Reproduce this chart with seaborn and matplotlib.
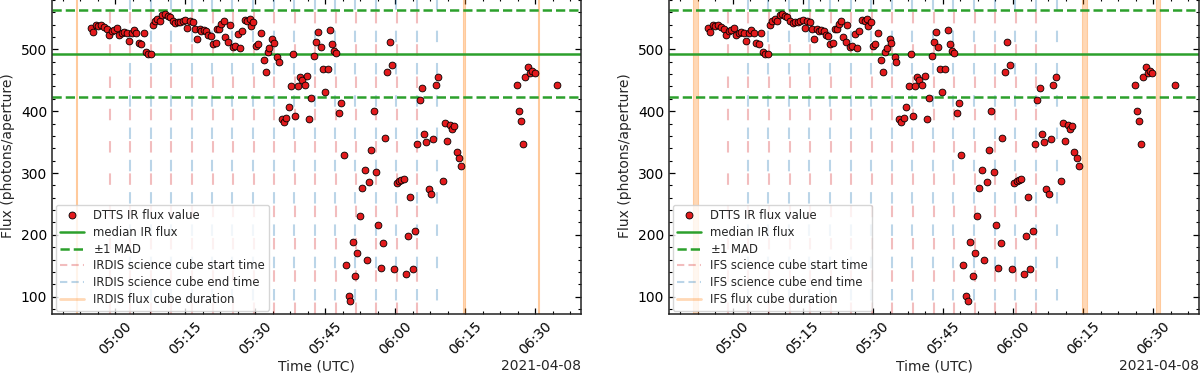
import numpy as np
import pandas as pd
import seaborn as sns
import matplotlib.pyplot as plt
import matplotlib.dates as mdates
from matplotlib.lines import Line2D
from matplotlib.ticker import AutoMinorLocator, MultipleLocator

# DTTS IR flux, minutes after 05:00 UTC on 2021-04-08
dtts_min = [
    -5.32, -4.74, -4.25, -3.68, -3.02, -2.45, -1.88, -1.39, -0.81, -0.24,
    0.25, 0.82, 1.40, 1.89, 2.46, 2.87, 3.45, 3.94, 4.51, 5.08,
    5.57, 6.15, 6.56, 6.97, 7.54, 7.95, 8.44, 9.01, 9.59, 10.08,
    10.65, 11.23, 11.72, 12.29, 12.86, 13.36, 13.93, 14.50, 14.99, 15.40,
    15.98, 16.63, 17.04, 17.45, 18.02, 18.43, 18.92, 19.50, 19.91, 20.48,
    20.89, 21.46, 21.87, 22.28, 22.69, 23.18, 23.59, 24.17, 24.58, 25.15,
    25.64, 26.21, 26.62, 27.11, 27.69, 28.26, 28.83, 29.08, 29.57, 30.06,
    30.55, 31.13, 31.78, 32.19, 32.60, 33.01, 33.58, 33.99, 34.65, 35.06,
    35.63, 36.12, 36.61, 37.11, 37.68, 38.09, 38.58, 39.07, 39.56, 39.97,
    40.55, 41.12, 41.53, 42.02, 42.59, 43.00, 43.49, 43.99, 44.40, 44.89,
    45.46, 46.03, 46.44, 46.93, 47.34, 47.92, 48.41, 48.90, 49.39, 49.96,
    50.37, 50.87, 51.36, 51.85, 52.34, 52.83, 53.40, 53.90, 54.39, 54.88,
    55.37, 55.86, 56.35, 56.84, 57.34, 57.74, 58.32, 58.81, 59.30, 59.79,
    60.28, 60.78, 61.27, 61.76, 62.25, 62.74, 63.23, 63.72, 64.22, 64.71,
    65.20, 65.69, 66.18, 66.67, 67.16, 67.66, 68.15, 68.64, 69.13, 70.19,
    70.69, 71.18, 71.67, 72.16, 72.65, 73.14, 73.63, 74.12,
    86.00, 86.49, 86.98, 87.47, 87.88, 88.38, 88.87, 89.36, 89.85, 94.76,
]
dtts_flux = [
    534.0, 527.5, 538.8, 537.7, 538.8, 535.6, 532.9, 522.6, 529.6, 531.8,
    534.0, 523.2, 527.0, 528.6, 527.0, 514.0, 526.4, 530.7, 526.4, 510.2,
    509.2, 526.4, 496.2, 491.9, 492.5, 539.4, 545.8, 549.6, 545.8, 556.1,
    557.1, 553.9, 551.8, 546.4, 543.1, 544.2, 544.2, 546.4, 547.4, 534.0,
    545.3, 543.7, 532.9, 516.7, 532.9, 529.6, 531.3, 529.6, 523.7, 522.1,
    508.6, 510.2, 533.4, 533.4, 541.0, 545.3, 520.5, 511.3, 538.8, 503.8,
    505.4, 524.3, 502.2, 529.6, 546.9, 546.4, 549.6, 538.3, 543.7, 505.4,
    509.2, 525.9, 482.7, 463.3, 496.2, 502.7, 517.3, 510.2, 488.1, 480.1,
    387.3, 383.0, 389.0, 406.7, 440.7, 492.5, 392.7, 440.7, 454.7, 450.4,
    442.3, 457.4, 387.9, 421.8, 489.2, 511.3, 528.6, 503.8, 468.7, 431.0,
    468.7, 531.8, 508.1, 496.8, 494.1, 396.5, 413.2, 328.6, 151.2, 101.1,
    93.5, 188.4, 133.4, 170.1, 230.5, 275.2, 304.3, 159.8, 285.4, 337.7,
    400.3, 301.1, 215.4, 146.4, 187.3, 356.6, 463.3, 511.3, 474.7, 145.3,
    283.3, 287.1, 289.2, 290.3, 136.7, 198.7, 261.2, 144.7, 206.7, 346.4,
    417.5, 436.9, 363.1, 350.1, 274.7, 265.5, 354.4, 442.9, 454.7, 287.1,
    380.3, 352.3, 377.1, 370.6, 376.5, 333.4, 324.3, 311.3,
    442.9, 399.7, 383.6, 346.9, 454.7, 471.4, 462.3, 465.5, 461.7, 442.9,
]

median_flux = 493
mad_flux = 70

# science cube start / end times (UTC)
irdis_start = ['04:58:47', '05:03:13', '05:07:38', '05:11:59', '05:16:25', '05:20:49',
               '05:25:11', '05:29:36', '05:34:02', '05:38:27', '05:42:52', '05:47:14',
               '05:51:31', '05:55:55', '06:00:17', '06:04:41']
irdis_end = ['05:03:07', '05:07:32', '05:11:53', '05:16:19', '05:20:43', '05:25:05',
             '05:29:30', '05:33:56', '05:38:21', '05:42:46', '05:47:08', '05:51:25',
             '05:55:49', '06:00:11', '06:04:35', '06:08:58']
ifs_start = ['04:59:00', '05:03:22', '05:07:46', '05:12:12', '05:16:32', '05:20:58',
             '05:25:24', '05:29:49', '05:34:10', '05:38:35', '05:43:05', '05:47:22',
             '05:51:47', '05:56:12', '06:00:37', '06:04:59']
ifs_end = ['05:03:16', '05:07:40', '05:12:06', '05:16:26', '05:20:52', '05:25:18',
           '05:29:43', '05:34:04', '05:38:29', '05:42:59', '05:47:16', '05:51:41',
           '05:56:06', '06:00:31', '06:04:53', '06:09:29']

# flux (off-axis) cube start / end times
irdis_flux_start = ['04:51:30', '06:14:36', '06:30:36']
irdis_flux_end = ['04:51:48', '06:14:54', '06:30:54']
ifs_flux_start = ['04:51:30', '06:14:48', '06:30:30']
ifs_flux_end = ['04:52:36', '06:15:48', '06:31:30']

day = '2021-04-08 '
base = pd.Timestamp(day + '05:00:00')


def to_time(lst):
    return pd.to_datetime([day + s for s in lst])


sns.set_style('ticks')
plt.rcParams['font.family'] = ['DejaVu Sans']
plt.rcParams['font.size'] = 10

c_red = (0.839, 0.153, 0.157, 0.3)
c_blue = (0.122, 0.467, 0.706, 0.3)
c_orange = (1.0, 0.498, 0.055, 0.3)
c_green = '#2ca02c'
dash_pink = (0, (5.5, 10))
dash_blue = (9, (5.5, 10))

fig = plt.figure(figsize=(12, 3.77), dpi=100)
ax_l = fig.add_axes([52 / 1200, 63 / 377, 529 / 1200, 316 / 377])
ax_r = fig.add_axes([669 / 1200, 63 / 377, 530 / 1200, 316 / 377])

t_dtts = base + pd.to_timedelta(dtts_min, unit='min')
df = pd.DataFrame({'time': t_dtts, 'flux': dtts_flux})

panels = [
    (ax_l, 'IRDIS', irdis_start, irdis_end, irdis_flux_start, irdis_flux_end),
    (ax_r, 'IFS', ifs_start, ifs_end, ifs_flux_start, ifs_flux_end),
]

for ax, inst, st, en, fst, fen in panels:
    for t in to_time(st):
        ax.axvline(t, color=c_red, lw=1.5, ls=dash_pink, zorder=1)
    for t in to_time(en):
        ax.axvline(t, color=c_blue, lw=1.5, ls=dash_blue, zorder=1)
    for a, b in zip(to_time(fst), to_time(fen)):
        ax.axvspan(a, b, facecolor=c_orange, edgecolor=c_orange, lw=0.8, zorder=1)

    ax.axhline(median_flux, color=c_green, lw=1.8, zorder=2)
    ax.axhline(median_flux + mad_flux, color=c_green, lw=1.8, ls='--', zorder=2)
    ax.axhline(median_flux - mad_flux, color=c_green, lw=1.8, ls='--', zorder=2)

    sns.scatterplot(data=df, x='time', y='flux', ax=ax, color='#e31a1c',
                    edgecolor='black', linewidth=0.6, s=24, zorder=5, legend=False)

    ax.set_xlim(base + pd.Timedelta(minutes=-13.6), base + pd.Timedelta(minutes=99.8))
    ax.set_ylim(72, 583)
    ax.xaxis.set_major_locator(mdates.MinuteLocator(byminute=[0, 15, 30, 45]))
    ax.xaxis.set_major_formatter(mdates.DateFormatter('%H:%M'))
    ax.xaxis.set_minor_locator(AutoMinorLocator(4))
    ax.yaxis.set_major_locator(MultipleLocator(100))
    ax.yaxis.set_minor_locator(AutoMinorLocator(5))
    ax.tick_params(which='both', direction='in', top=True, right=True, colors='black')
    ax.tick_params(which='major', length=4.5, width=0.9)
    ax.tick_params(which='minor', length=2.5, width=0.8)
    for lab in ax.get_xticklabels():
        lab.set_rotation(45)
        lab.set_ha('center')
    for sp in ax.spines.values():
        sp.set_color('#222222')
        sp.set_linewidth(1.1)

    ax.set_xlabel('Time (UTC)', labelpad=2)
    ax.set_ylabel('Flux (photons/aperture)')
    ax.text(1.0, -0.165, '2021-04-08', transform=ax.transAxes, ha='right', va='center', fontsize=10)

    handles = [
        Line2D([], [], ls='none', marker='o', markerfacecolor='#e31a1c',
               markeredgecolor='black', markeredgewidth=0.6, markersize=5),
        Line2D([], [], color=c_green, lw=1.8),
        Line2D([], [], color=c_green, lw=1.8, ls='--'),
        Line2D([], [], color=c_red, lw=1.5, ls=(0, (3.5, 2))),
        Line2D([], [], color=c_blue, lw=1.5, ls=(0, (3.5, 2))),
        Line2D([], [], color=c_orange, lw=2),
    ]
    labels = ['DTTS IR flux value', 'median IR flux', r'$\pm$1 MAD',
              inst + ' science cube start time', inst + ' science cube end time',
              inst + ' flux cube duration']
    ax.legend(handles, labels, loc='lower left', fontsize=8.4, borderaxespad=0.3,
              labelspacing=0.32, framealpha=0.8, edgecolor='#cccccc', fancybox=True)

fig.savefig('out.png', dpi=100)
